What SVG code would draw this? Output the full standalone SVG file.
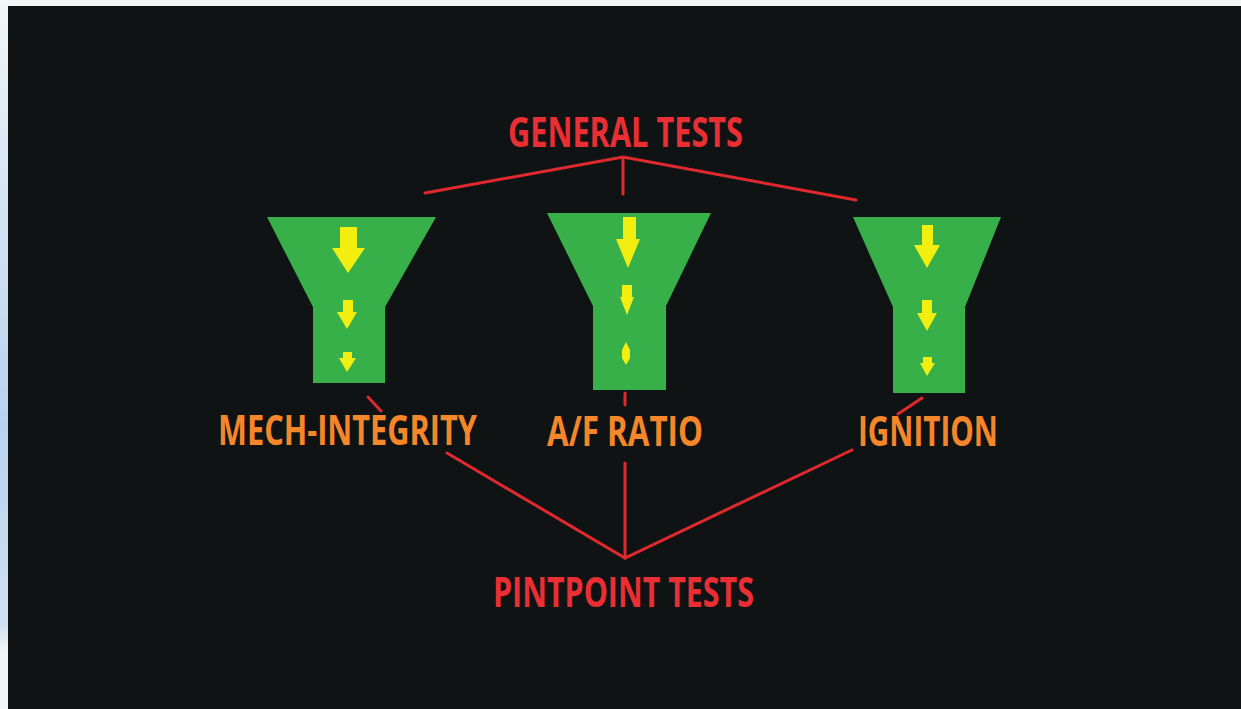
<svg xmlns="http://www.w3.org/2000/svg" width="1241" height="709" viewBox="0 0 1241 709">
<defs>
<linearGradient id="edge" x1="0" y1="0" x2="0" y2="1">
<stop offset="0" stop-color="#f4f6f8"/>
<stop offset="0.2" stop-color="#dce8f5"/>
<stop offset="0.6" stop-color="#b8d2ee"/>
<stop offset="0.88" stop-color="#cfe0f2"/>
<stop offset="0.92" stop-color="#f2f4f6"/>
<stop offset="1" stop-color="#f4f4f4"/>
</linearGradient>
<style>
.funnel{fill:#38b049}
.arrow{fill:#f2ee10}
.conn{stroke:#e0292f;stroke-width:3;fill:none;stroke-linecap:round}
.red{fill:#ea2f34;font-family:"Open Sans","Liberation Sans",sans-serif;font-weight:700;font-size:41px}
.orange{fill:#f5862a;font-family:"Open Sans","Liberation Sans",sans-serif;font-weight:700;font-size:41px}
</style>
</defs>
<rect x="0" y="0" width="1241" height="709" fill="#f4f4f4"/>
<rect x="0" y="0" width="9" height="709" fill="url(#edge)"/>
<rect x="8" y="6" width="1233" height="703" fill="#101313"/>

<g id="connectors">
<polyline class="conn" points="425,193 623,157 856,200"/>
<line class="conn" x1="623" y1="158" x2="623" y2="194"/>
<line class="conn" x1="368" y1="397" x2="381" y2="411"/>
<line class="conn" x1="625" y1="393" x2="625" y2="405" stroke-width="2.5"/>
<line class="conn" x1="922" y1="398" x2="898" y2="414"/>
<polyline class="conn" points="447,453 625,558 852,450"/>
<line class="conn" x1="625" y1="463" x2="625" y2="558" stroke-width="2.5"/>
</g>

<g id="general-tests">
<text class="red" x="508" y="147" textLength="235" lengthAdjust="spacingAndGlyphs">GENERAL TESTS</text>
</g>

<g id="funnel-mech">
<polygon class="funnel" points="267,217 436,217 385,307 385,383 313,383 313,307"/>
<polygon class="arrow" points="340,227 357,227 357,248 365,248 348,273 332,248 340,248"/>
<polygon class="arrow" points="343,300 353,300 353,312 357,312 347,329 337,312 343,312"/>
<polygon class="arrow" points="343,352 352,352 352,358 356,358 347,372 339,358 343,358"/>
</g>

<g id="funnel-af">
<polygon class="funnel" points="547,213 711,213 666,306 666,390 593,390 593,306"/>
<polygon class="arrow" points="623,217 636,217 636,239 640,239 628,268 616,239 623,239"/>
<polygon class="arrow" points="622,285 632,285 632,297 634,297 627,315 620,297 622,297"/>
<polygon class="arrow" points="626,342 630,350 630,358 626,365 622,358 622,350"/>
</g>

<g id="funnel-ignition">
<polygon class="funnel" points="853,217 1001,217 965,307 965,393 893,393 893,307"/>
<polygon class="arrow" points="922,225 933,225 933,245 940,245 927,268 914,245 922,245"/>
<polygon class="arrow" points="922,300 932,300 932,313 937,313 927,331 917,313 922,313"/>
<polygon class="arrow" points="923,357 932,357 932,363 935,363 927,376 920,363 923,363"/>
</g>

<g id="label-mech">
<text class="orange" x="218" y="445" textLength="259" lengthAdjust="spacingAndGlyphs">MECH-INTEGRITY</text>
</g>
<g id="label-af">
<text class="orange" x="547" y="446" textLength="156" lengthAdjust="spacingAndGlyphs">A/F RATIO</text>
</g>
<g id="label-ignition">
<text class="orange" x="858" y="446" textLength="140" lengthAdjust="spacingAndGlyphs">IGNITION</text>
</g>

<g id="pinpoint-tests">
<text class="red" x="493" y="607" textLength="261" lengthAdjust="spacingAndGlyphs">PINTPOINT TESTS</text>
</g>
</svg>
